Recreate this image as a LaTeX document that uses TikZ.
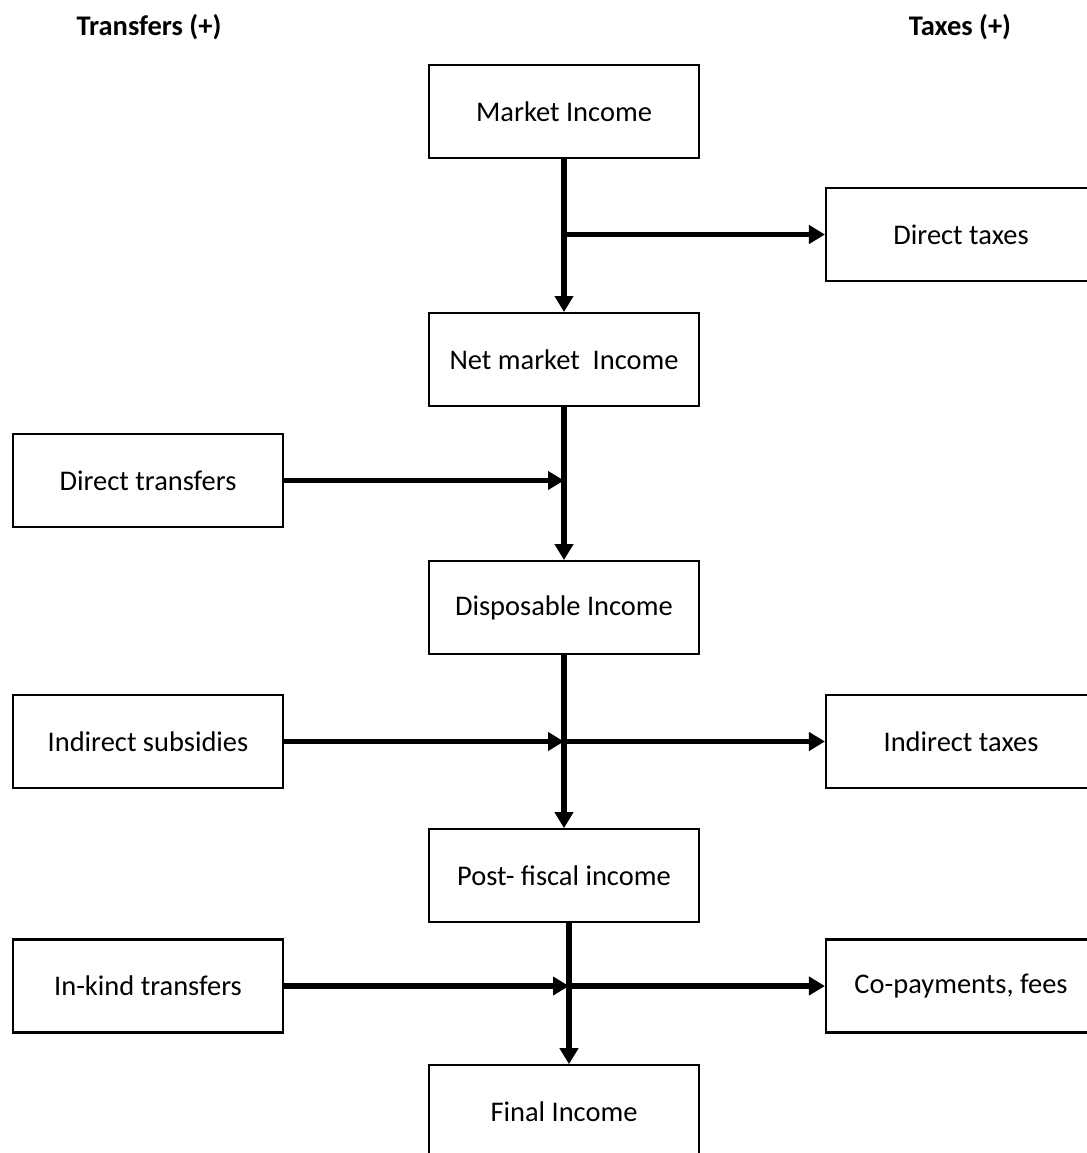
\documentclass[tikz,border=0pt]{standalone}
\usepackage{fontspec}
\setmainfont{Carlito}
\usetikzlibrary{arrows.meta, positioning}

\begin{document}
\begin{tikzpicture}[
        x=0.02cm, y=0.02cm,
        font=\fontsize{16.2}{19}\selectfont,
        box/.style={draw, line width=1.2pt, minimum width=5.4cm, minimum height=1.86cm, align=center, inner sep=2pt},
        head/.style={font=\fontsize{16.2}{19}\selectfont\bfseries},
        flow/.style={line width=3.2pt, -{Triangle[length=0.32cm, width=0.36cm]}}
        ]
        \useasboundingbox (0,0) rectangle (1087,-1153);
        % column headings
        \node[head] (trh) at (149,-27) {Transfers (+)};
        \node[head] (txh) at (960,-27) {Taxes (+)};
        % income chain
        \node[box] (mi) at (564,-111.5) {Market Income};
        \node[box, below=3.06cm of mi] (nmi) {Net market~ Income};
        \node[box, below=3.06cm of nmi] (di) {Disposable Income};
        \node[box, below=3.46cm of di] (pfi) {Post- fiscal income};
        \node[box, below=2.82cm of pfi] (fi) {Final Income};
        % transfers
        \node[box] (dtr) at (148,-480.5) {Direct transfers};
        \node[box] (isub) at (148,-741.5) {Indirect subsidies};
        \node[box] (ikt) at (148,-986) {In-kind transfers};
        % taxes
        \node[box] (dtx) at (961,-234.5) {Direct taxes};
        \node[box] (itx) at (961,-741.5) {Indirect taxes};
        \node[box] (cop) at (961,-986) {Co-payments, fees};
        % vertical flow
        \draw[flow] (mi.south) -- (nmi.north);
        \draw[flow] (nmi.south) -- (di.north);
        \draw[flow] (di.south) -- (pfi.north);
        \draw[flow] ([xshift=0.1cm]pfi.south) -- ([xshift=0.1cm]fi.north);
        % side flows
        \draw[flow] (mi.south |- dtx.west) -- (dtx.west);
        \draw[flow] (dtr.east) -- (dtr.east -| nmi.south);
        \draw[flow] (isub.east) -- (isub.east -| di.south);
        \draw[flow] (di.south |- itx.west) -- (itx.west);
        \draw[flow] (ikt.east) -- ([xshift=0.1cm]ikt.east -| pfi.south);
        \draw[flow] ([xshift=0.1cm]pfi.south |- cop.west) -- (cop.west);
    \end{tikzpicture}
\end{document}
